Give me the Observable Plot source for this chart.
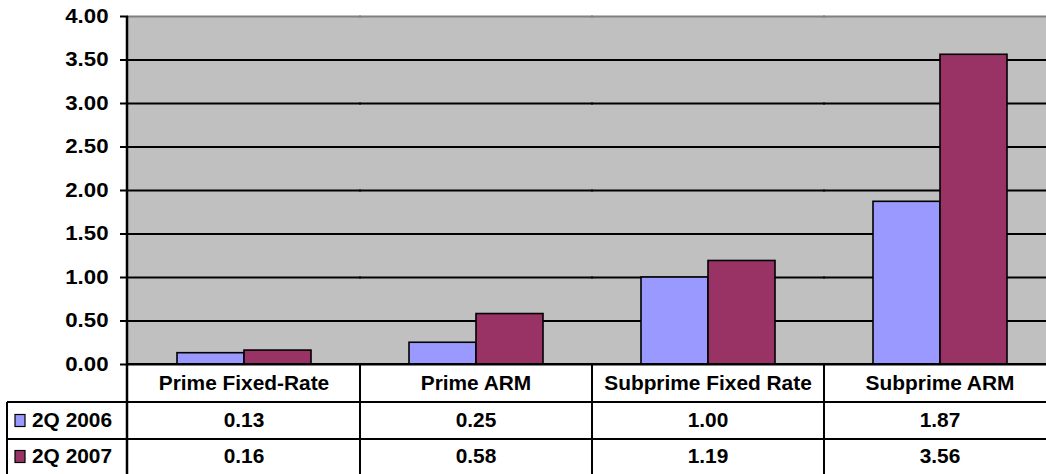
<!DOCTYPE html>
<html><head><meta charset="utf-8">
<script src="https://cdn.jsdelivr.net/npm/d3@7"></script>
<script src="https://cdn.jsdelivr.net/npm/@observablehq/plot@0.6"></script>
<style>
html,body{margin:0;padding:0;background:#fff;overflow:hidden}
#chart svg{display:block}
</style></head><body><div id="chart"></div>
<script>
const categories = ["Prime Fixed-Rate", "Prime ARM", "Subprime Fixed Rate", "Subprime ARM"];
const seriesNames = ["2Q 2006", "2Q 2007"];
const values2006 = [0.13, 0.25, 1.00, 1.87];
const values2007 = [0.16, 0.58, 1.19, 3.56];
const yTicks = [0, 0.5, 1, 1.5, 2, 2.5, 3, 3.5, 4];
const seriesColors = ["#9999FF", "#993366"];
const seriesValues = [values2006, values2007];

const data = categories.flatMap((c, i) => seriesNames.map((s, j) => ({category: c, series: s, value: seriesValues[j][i]})));

const W = 1046, H = 474;
const FONT = "'Liberation Sans', Arial, Helvetica, sans-serif";
const fmt = d3.format(".2f");

const plot = Plot.plot({
  width: W, height: H,
  marginLeft: 127, marginRight: -11, marginTop: 16, marginBottom: 110,
  style: {fontFamily: FONT, fontSize: "18px", fontWeight: "bold", color: "#000", background: "#fff", overflow: "visible"},
  fx: {domain: categories, padding: 0, axis: null},
  x: {domain: seriesNames, paddingInner: 0, paddingOuter: 0.73, axis: null},
  y: {domain: [0, 4]},
  color: {domain: seriesNames, range: seriesColors},
  marks: [
    Plot.frame({fill: "#C0C0C0", stroke: null, insetLeft: -1, insetRight: -1}),
    Plot.ruleY(yTicks, {stroke: d => d === 4 ? "#808080" : "#000", strokeWidth: 2, insetLeft: -1, insetRight: -1}),
    Plot.barY(data, {fx: "category", x: "series", y: "value", fill: "series", stroke: "#000", strokeWidth: 1.6}),
    Plot.axisY({ticks: yTicks, tickFormat: fmt, tickSize: 8, tickPadding: 12, strokeWidth: 2, label: null, fontSize: 19.5, fontWeight: "bold", className: "yax"})
  ]
});
document.getElementById("chart").append(plot);

// data table below the plot, aligned to the fx scale
const fxs = plot.scale("fx");
const ys = plot.scale("y");
const svg = d3.select(plot);
const y0 = ys.apply(0);
const rowBounds = [y0, 402, 439, 476];
const leftX = 7, axisX = 127;
const tbl = svg.append("g").attr("stroke", "#000").attr("stroke-width", 2);
// horizontal lines
tbl.append("line").attr("x1", axisX).attr("x2", W + 20).attr("y1", rowBounds[0]).attr("y2", rowBounds[0]);
for (let r = 1; r < 3; r++) tbl.append("line").attr("x1", leftX).attr("x2", W + 20).attr("y1", rowBounds[r]).attr("y2", rowBounds[r]);
// vertical lines
tbl.append("line").attr("x1", axisX).attr("x2", axisX).attr("y1", ys.apply(4)).attr("y2", H + 5).attr("stroke-width", 2.5);
tbl.append("line").attr("x1", leftX).attr("x2", leftX).attr("y1", rowBounds[1]).attr("y2", H + 5);
categories.forEach(c => {
  const xe = fxs.apply(c) + fxs.bandwidth;
  tbl.append("line").attr("x1", xe).attr("x2", xe).attr("y1", rowBounds[0]).attr("y2", H + 5);
});
const txt = svg.append("g").attr("font-family", FONT).attr("font-weight", "bold").attr("font-size", 19.5).attr("fill", "#000").attr("class", "tbltext");
categories.forEach((c, i) => {
  const xc = fxs.apply(c) + fxs.bandwidth / 2;
  txt.append("text").attr("x", xc).attr("y", (rowBounds[0] + rowBounds[1]) / 2).attr("dy", "0.35em").attr("text-anchor", "middle").text(c);
  seriesNames.forEach((s, j) => {
    txt.append("text").attr("x", xc).attr("y", (rowBounds[j + 1] + Math.min(rowBounds[j + 2], H)) / 2).attr("dy", "0.35em").attr("text-anchor", "middle").text(fmt(seriesValues[j][i]));
  });
});
seriesNames.forEach((s, j) => {
  const yc = (rowBounds[j + 1] + Math.min(rowBounds[j + 2], H)) / 2;
  svg.append("rect").attr("x", 15).attr("y", yc - 6).attr("width", 10).attr("height", 12).attr("fill", seriesColors[j]).attr("stroke", "#000").attr("stroke-width", 1.2);
  txt.append("text").attr("x", 32).attr("y", yc).attr("dy", "0.35em").attr("text-anchor", "start").text(s);
});

// emulate the horizontally stretched Arial of the original image
svg.selectAll(".tbltext text").each(function() {
  const w = this.getComputedTextLength();
  this.setAttribute("textLength", w * 1.07);
  this.setAttribute("lengthAdjust", "spacingAndGlyphs");
});
svg.selectAll(".yax text").each(function() {
  const w = this.getComputedTextLength();
  this.setAttribute("textLength", w * 1.14);
  this.setAttribute("lengthAdjust", "spacingAndGlyphs");
});
</script>
</body></html>
